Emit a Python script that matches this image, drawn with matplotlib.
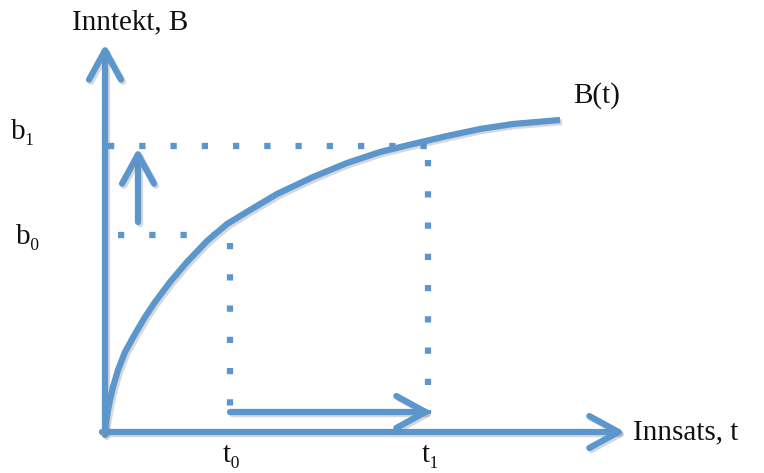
import matplotlib
matplotlib.use("Agg")
import matplotlib.pyplot as plt
import matplotlib.patheffects as pe
from matplotlib.patches import FancyArrowPatch

# curve B(t) (origin of the sketch at 0,0)
curve_t = [0, 1, 3, 5, 8, 13, 20, 30, 40, 50, 65, 82, 102, 122, 145, 172, 208, 242, 275, 312, 342, 375, 408, 455]
curve_b = [0, 10, 22, 32, 45, 62, 80, 98, 115, 130, 150, 170, 191, 208, 222, 238, 255, 269, 280, 289, 296, 303, 308, 312]

# levels on the axes
t0, t1 = 125, 323
b0, b1 = 197, 286

blue = "#5b96cc"
lw = 4.5
shadow = [pe.SimpleLineShadow(offset=(1.5, -1.5), shadow_color="gray", alpha=0.3), pe.Normal()]
fonts = ["Liberation Serif", "DejaVu Serif"]

fig = plt.figure(figsize=(7.64, 4.73), dpi=100)
ax = fig.add_axes([0, 0, 1, 1])
ax.set_xlim(-105, 659)
ax.set_ylim(-41, 432)
ax.axis("off")


def arrow(p0, p1):
    a = FancyArrowPatch(p0, p1, arrowstyle="->,head_length=21,head_width=11.5",
                        mutation_scale=1, color=blue, lw=lw, capstyle="round",
                        joinstyle="round", shrinkA=0, shrinkB=0, path_effects=shadow)
    ax.add_patch(a)


# axes
arrow((0, -3), (0, 388))
arrow((-3, 0), (520, 0))

# dotted guide lines
dots = (0, (1, 4.0))
ax.plot([3, 325], [b1, b1], color=blue, lw=lw, ls=dots, dash_capstyle="butt")
ax.plot([13, 110], [b0, b0], color=blue, lw=lw, ls=dots, dash_capstyle="butt")
ax.plot([t0, t0], [189, 25], color=blue, lw=lw, ls=dots, dash_capstyle="butt")
ax.plot([t1, t1], [272, 18], color=blue, lw=lw, ls=dots, dash_capstyle="butt")

# the curve
ax.plot(curve_t, curve_b, color=blue, lw=lw, solid_capstyle="butt",
        solid_joinstyle="round", path_effects=shadow)

# shift arrows
arrow((33, 210), (33, 284))
arrow((t0, 20), (327, 20))

# labels
txt = dict(family=fonts, color="#111111", fontsize=21)
ax.text(25, 410, "Inntekt, B", ha="center", va="center", **txt)
ax.text(528, 0, "Innsats, t", ha="left", va="center", **txt)
ax.text(468, 336, "B(t)", ha="left", va="center", **txt)
ax.text(-82, 300, "b\u2081", ha="center", va="center", **txt)
ax.text(-77, 195, "b\u2080", ha="center", va="center", **txt)
ax.text(t0 + 2, -23, "t\u2080", ha="center", va="center", **txt)
ax.text(t1 + 3, -23, "t\u2081", ha="center", va="center", **txt)

fig.savefig("out.png", dpi=100)
